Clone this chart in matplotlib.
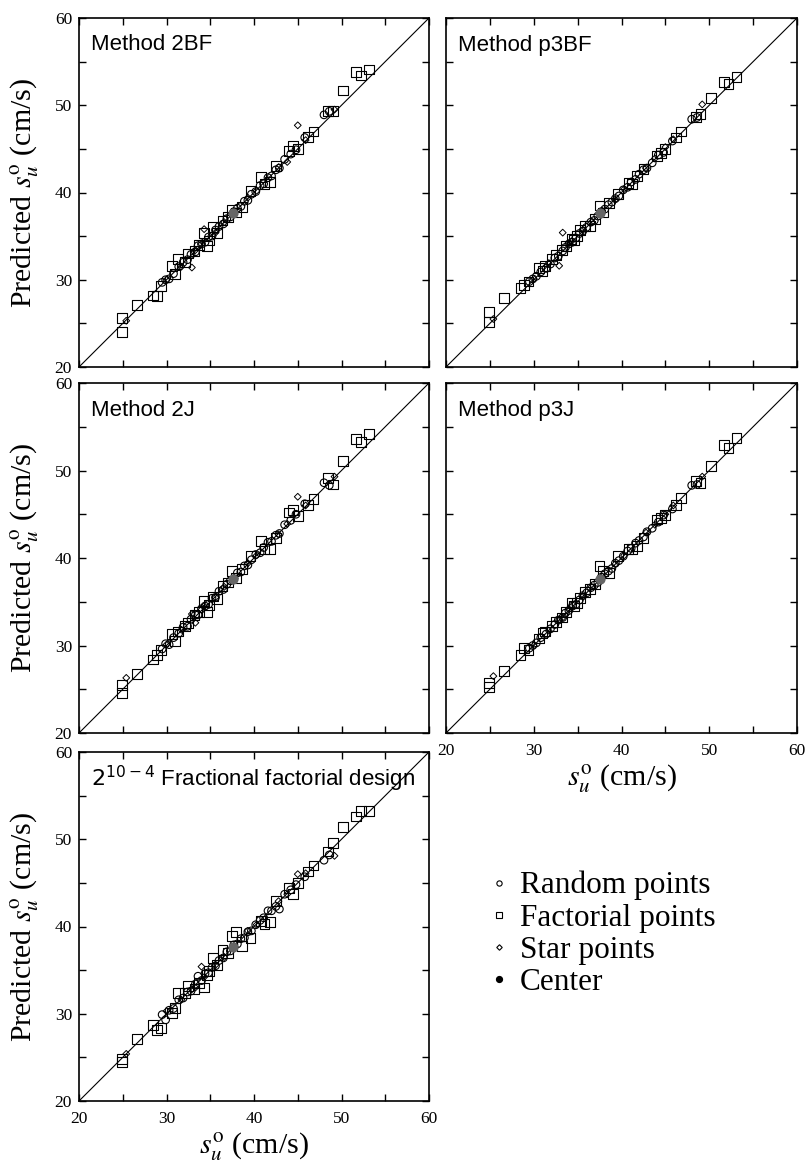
import matplotlib
matplotlib.use("Agg")
from matplotlib import pyplot as plt
from matplotlib.lines import Line2D

plt.rcParams['font.family'] = ['Liberation Serif', 'DejaVu Serif']
plt.rcParams['mathtext.fontset'] = 'stix'

# measured s_u (x) for each kind of point, shared by all panels
factX = [24.9, 24.9, 26.6, 28.5, 28.9, 29.4, 30.6, 31.0, 31.3, 32.1,
         32.5, 33.2, 33.7, 34.3, 34.6, 34.9, 35.3, 35.8, 36.4, 37.0,
         37.5, 37.9, 38.6, 39.6, 40.8, 41.2, 41.8, 42.5, 44.0, 44.5,
         45.0, 46.2, 46.8, 48.5, 49.0, 50.2, 51.7, 52.2, 53.1]
randX = [29.5, 29.9, 30.3, 30.8, 31.4, 31.9, 32.4, 32.8, 33.3, 33.6,
         34.0, 34.4, 34.8, 35.2, 35.6, 36.0, 36.5, 36.9, 37.3, 37.7,
         38.1, 38.5, 38.9, 39.3, 39.7, 40.2, 40.7, 41.1, 41.6, 42.0,
         42.5, 42.9, 43.5, 44.2, 44.8, 45.8, 48.0, 48.6]
starX = [25.4, 30.0, 31.7, 32.9, 33.3, 34.0, 34.3, 35.6, 36.6, 37.8,
         39.3, 40.3, 42.8, 43.8, 45.0, 45.9, 49.2]
centerX = [37.6]

# predicted s_u per panel
fact2BF = [25.6, 24.0, 27.1, 28.2, 28.1, 29.3, 31.6, 30.7, 32.4, 32.0,
           33.0, 33.3, 34.0, 35.4, 33.9, 34.5, 36.0, 35.4, 36.8, 37.2,
           38.0, 37.7, 38.3, 40.2, 41.8, 41.0, 41.2, 43.0, 44.8, 45.3,
           45.0, 46.4, 47.0, 49.3, 49.3, 51.7, 53.8, 53.4, 54.1]
factP3BF = [25.2, 26.3, 27.9, 29.1, 29.4, 29.8, 31.3, 31.0, 31.6, 32.4,
            32.8, 33.4, 33.9, 34.7, 34.6, 35.0, 35.7, 36.2, 36.2, 37.0,
            38.5, 37.7, 38.8, 39.8, 41.1, 41.0, 41.9, 42.7, 44.2, 44.5,
            45.0, 46.3, 47.0, 48.7, 49.0, 50.8, 52.7, 52.4, 53.2]
fact2J = [25.5, 24.6, 26.7, 28.4, 28.9, 29.5, 31.3, 30.5, 31.6, 32.2,
          32.6, 33.5, 33.8, 35.1, 33.8, 34.6, 35.6, 35.3, 36.8, 37.2,
          38.5, 37.7, 38.7, 40.2, 41.9, 41.0, 41.0, 42.3, 45.2, 45.5,
          44.8, 46.1, 46.7, 49.1, 48.4, 51.1, 53.6, 53.3, 54.2]
factP3J = [25.3, 25.7, 27.1, 28.9, 29.7, 29.5, 30.8, 31.4, 31.6, 32.2,
           32.7, 33.2, 33.8, 34.9, 34.5, 34.9, 35.4, 36.1, 36.5, 37.0,
           39.1, 38.5, 38.3, 40.2, 41.0, 41.0, 41.4, 42.3, 44.4, 44.6,
           44.9, 46.1, 46.9, 48.8, 48.6, 50.5, 52.9, 52.6, 53.7]
factFF = [24.8, 24.5, 27.1, 28.7, 28.1, 28.4, 30.1, 30.7, 32.4, 32.4,
          33.2, 32.8, 33.5, 33.0, 34.4, 34.9, 36.4, 35.6, 37.3, 37.0,
          38.9, 39.4, 37.8, 38.7, 40.6, 40.3, 40.5, 42.9, 44.4, 43.7,
          45.0, 46.3, 47.0, 48.6, 49.6, 51.4, 52.6, 53.2, 53.2]

rand2BF = [29.7, 30.0, 30.1, 30.7, 31.5, 32.0, 32.3, 32.9, 33.2, 33.9,
           34.1, 34.3, 34.9, 35.0, 35.7, 36.1, 36.4, 37.0, 37.2, 37.8,
           38.2, 38.4, 39.0, 39.1, 39.8, 40.1, 40.8, 41.0, 41.7, 41.9,
           42.6, 42.8, 43.8, 44.4, 44.9, 46.3, 48.9, 49.3]
randP3BF = [29.8, 30.1, 30.4, 30.9, 31.3, 31.8, 32.5, 32.7, 33.3, 33.7,
            34.1, 34.3, 34.8, 35.3, 35.6, 36.0, 36.6, 36.8, 37.3, 37.8,
            38.1, 38.6, 38.9, 39.3, 39.6, 40.3, 40.6, 41.2, 41.5, 42.1,
            42.6, 42.8, 43.4, 44.3, 44.6, 45.9, 48.4, 48.6]
rand2J = [29.6, 30.2, 30.1, 30.9, 31.4, 32.1, 32.2, 33.0, 33.5, 33.5,
          34.2, 34.5, 34.7, 35.4, 35.5, 36.2, 36.4, 37.0, 37.4, 37.6,
          38.3, 38.4, 39.1, 39.2, 39.8, 40.4, 40.6, 41.2, 41.8, 41.9,
          42.6, 42.8, 43.8, 44.3, 45.0, 46.2, 48.6, 48.3]
randP3J = [29.7, 30.0, 30.3, 30.9, 31.3, 31.9, 32.4, 32.9, 33.2, 33.7,
           34.0, 34.5, 34.7, 35.2, 35.7, 36.0, 36.6, 36.9, 37.2, 37.8,
           38.2, 38.5, 38.8, 39.4, 39.7, 40.2, 40.8, 41.1, 41.7, 42.0,
           42.4, 43.0, 43.4, 44.1, 44.9, 45.6, 48.3, 48.4]
randFF = [29.9, 29.3, 30.4, 30.6, 31.6, 31.8, 32.5, 32.6, 33.4, 34.3,
          33.8, 34.6, 34.7, 35.3, 35.5, 36.1, 36.4, 37.1, 37.2, 37.9,
          38.0, 38.6, 38.7, 39.4, 39.5, 40.2, 40.7, 41.0, 41.8, 41.8,
          42.3, 42.0, 43.7, 44.2, 44.8, 45.7, 47.6, 48.2]

star2BF = [25.3, 30.0, 31.5, 31.4, 33.4, 34.1, 35.8, 35.4, 36.6, 37.8,
           39.4, 40.2, 42.9, 43.5, 47.7, 46.0, 49.5]
starP3BF = [25.5, 30.1, 31.9, 31.6, 35.4, 34.2, 34.4, 35.7, 36.6, 37.9,
            39.2, 40.4, 42.8, 43.9, 45.2, 46.1, 50.1]
star2J = [26.3, 30.1, 31.8, 33.6, 32.6, 34.1, 34.5, 35.5, 36.7, 37.7,
          39.4, 40.3, 42.7, 43.9, 47.0, 46.0, 49.3]
starP3J = [26.5, 30.0, 31.7, 33.0, 33.2, 34.1, 34.4, 35.6, 36.7, 37.9,
           39.3, 40.3, 42.9, 43.8, 45.0, 46.0, 49.3]
starFF = [25.4, 30.3, 31.6, 32.8, 33.0, 35.4, 34.2, 35.6, 36.5, 37.7,
          39.5, 40.2, 42.9, 43.7, 46.0, 46.1, 48.1]

centerY = [37.6]

titles = ["Method 2BF", "Method p3BF", "Method 2J", "Method p3J",
          "$2^{10\u22124}$ Fractional factorial design"]
factYs = [fact2BF, factP3BF, fact2J, factP3J, factFF]
randYs = [rand2BF, randP3BF, rand2J, randP3J, randFF]
starYs = [star2BF, starP3BF, star2J, starP3J, starFF]

W, H = 806, 1167
fig = plt.figure(figsize=(W / 100, H / 100), dpi=100)

# axes boxes in pixels: left, top, width, height
boxes = [(79, 18, 350, 349), (446, 18, 351, 349),
         (79, 383, 350, 350), (446, 383, 351, 350),
         (79, 752, 350, 349)]

ylabel = "Predicted $s_u^{\\mathrm{o}}$ (cm/s)"
xlabel = "$s_u^{\\mathrm{o}}$ (cm/s)"

for i in range(5):
    l, t, w, h = boxes[i]
    ax = fig.add_axes([l / W, 1 - (t + h) / H, w / W, h / H])
    ax.plot([20, 60], [20, 60], color='black', lw=0.8, zorder=1)
    ax.scatter(factX, factYs[i], s=50, marker='s', facecolors='none',
               edgecolors='black', linewidths=0.8, zorder=2)
    ax.scatter(randX, randYs[i], s=30, marker='o', facecolors='none',
               edgecolors='black', linewidths=0.8, zorder=3)
    ax.scatter(starX, starYs[i], s=12, marker='D', facecolors='none',
               edgecolors='black', linewidths=0.7, zorder=3)
    ax.scatter(centerX, centerY, s=40, marker='o', color='#666666',
               zorder=4)
    ax.set_xlim(20, 60)
    ax.set_ylim(20, 60)
    ax.set_xticks([20, 25, 30, 35, 40, 45, 50, 55, 60])
    ax.set_yticks([20, 25, 30, 35, 40, 45, 50, 55, 60])
    ax.set_xticklabels(["20", "", "30", "", "40", "", "50", "", "60"])
    ax.set_yticklabels(["20", "", "30", "", "40", "", "50", "", "60"])
    ax.tick_params(direction='in', length=5, width=1, top=True, right=True,
                   labelsize=12.5)
    ax.tick_params(axis='x', pad=7)
    ax.tick_params(axis='y', pad=5)
    for sp in ax.spines.values():
        sp.set_linewidth(1.2)
    if i % 2 == 1:
        ax.tick_params(labelleft=False)
    else:
        ax.set_ylabel(ylabel, fontsize=21.5)
        ax.yaxis.label.set_va('center')
        ax.yaxis.set_label_coords(-0.155, 0.5)
    if i in (3, 4):
        ax.set_xlabel(xlabel, fontsize=21.5)
        ax.xaxis.label.set_va('center')
        ax.xaxis.set_label_coords(0.5, -0.13)
    else:
        ax.tick_params(labelbottom=False)
    ax.text(12 / w, 1 - 27 / h, titles[i], transform=ax.transAxes,
            fontsize=16, family=['Liberation Sans', 'DejaVu Sans'],
            math_fontfamily='dejavusans', ha='left', va='center')

handles = [
    Line2D([], [], ls='none', marker='o', ms=3.8, mfc='none', mec='black', mew=0.8),
    Line2D([], [], ls='none', marker='s', ms=3.8, mfc='none', mec='black', mew=0.8),
    Line2D([], [], ls='none', marker='D', ms=2.8, mfc='none', mec='black', mew=0.8),
    Line2D([], [], ls='none', marker='o', ms=4.2, color='black'),
]
labels = ["Random points", "Factorial points", "Star points", "Center"]
fig.legend(handles, labels, loc='upper left', bbox_to_anchor=(487 / W, 1 - 871 / H),
           frameon=False, fontsize=22.5, handlelength=0.75, handletextpad=0.3,
           labelspacing=0.1, borderpad=0, borderaxespad=0)

plt.savefig("out.png", dpi=100)
